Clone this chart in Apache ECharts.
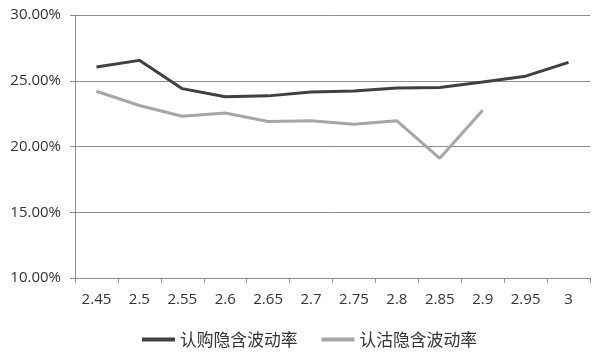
<!DOCTYPE html>
<html><head><meta charset="utf-8">
<script src="https://cdn.jsdelivr.net/npm/echarts@6/dist/echarts.min.js"></script>
<style>html,body{margin:0;padding:0;background:#fff}#c{width:600px;height:352px}</style>
</head><body><div id="c"></div>
<script>
var categories = ['2.45','2.5','2.55','2.6','2.65','2.7','2.75','2.8','2.85','2.9','2.95','3'];
var callIV = [26.05, 26.55, 24.4, 23.78, 23.85, 24.15, 24.22, 24.45, 24.48, 24.9, 25.35, 26.4];
var putIV = [24.2, 23.12, 22.3, 22.55, 21.9, 21.95, 21.7, 21.95, 19.1, 22.75, null, null];
var seriesNames = ['认购隐含波动率', '认沽隐含波动率'];
var yTicks = {min: 10, max: 30, interval: 5};

var chart = echarts.init(document.getElementById('c'));
var font = '"Open Sans", "Noto Sans CJK SC", sans-serif';
chart.setOption({
  animation: false,
  grid: {left: 75, right: 10, top: 15, bottom: 74},
  legend: {
    top: 326, left: 137, itemGap: 24, itemWidth: 33, itemHeight: 4,
    icon: 'rect',
    textStyle: {fontFamily: '"Noto Sans CJK SC", sans-serif', fontSize: 16.8, color: '#333'},
    data: seriesNames
  },
  xAxis: {
    type: 'category', data: categories, boundaryGap: true,
    axisLine: {lineStyle: {color: '#8c8c8c', width: 1}},
    axisTick: {show: true, length: 5, lineStyle: {color: '#8c8c8c'}},
    axisLabel: {fontFamily: font, fontSize: 15, color: '#333', margin: 14}
  },
  yAxis: {
    type: 'value', min: yTicks.min, max: yTicks.max, interval: yTicks.interval,
    axisLine: {show: true, lineStyle: {color: '#8c8c8c', width: 1}},
    axisTick: {show: true, length: 5, lineStyle: {color: '#8c8c8c'}},
    splitLine: {lineStyle: {color: '#8c8c8c', width: 1}},
    axisLabel: {fontFamily: font, fontSize: 15, color: '#333', margin: 14,
      formatter: function(v){ return v.toFixed(2) + '%'; }}
  },
  series: [
    {name: seriesNames[0], type: 'line', data: callIV, symbol: 'none',
     lineStyle: {color: '#404040', width: 3}, itemStyle: {color: '#404040'}},
    {name: seriesNames[1], type: 'line', data: putIV, symbol: 'none',
     lineStyle: {color: '#a6a6a6', width: 3}, itemStyle: {color: '#a6a6a6'}}
  ]
});
</script></body></html>
